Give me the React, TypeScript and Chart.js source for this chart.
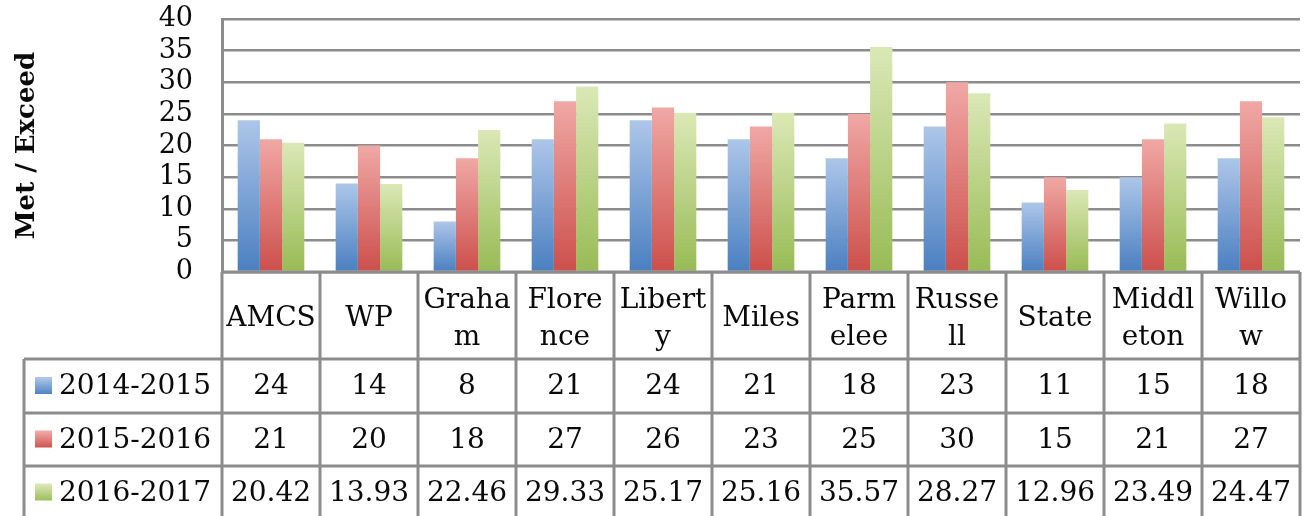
import React, { useEffect, useRef } from "react";
import { Chart, registerables } from "chart.js";

Chart.register(...registerables);

const categories = ["AMCS", "WP", "Graham", "Florence", "Liberty", "Miles", "Parmelee", "Russell", "State", "Middleton", "Willow"];
const headerLines = [["AMCS"], ["WP"], ["Graha", "m"], ["Flore", "nce"], ["Libert", "y"], ["Miles"], ["Parm", "elee"], ["Russe", "ll"], ["State"], ["Middl", "eton"], ["Willo", "w"]];
const seriesLabels = ["2014-2015", "2015-2016", "2016-2017"];
const values2014 = [24, 14, 8, 21, 24, 21, 18, 23, 11, 15, 18];
const values2015 = [21, 20, 18, 27, 26, 23, 25, 30, 15, 21, 27];
const values2016 = [20.42, 13.93, 22.46, 29.33, 25.17, 25.16, 35.57, 28.27, 12.96, 23.49, 24.47];
const tableText2016 = ["20.42", "13.93", "22.46", "29.33", "25.17", "25.16", "35.57", "28.27", "12.96", "23.49", "24.47"];
const yTicks = { min: 0, max: 40, step: 5 };

const colorsTop = ["#adc6e9", "#f0a8a5", "#dbe8b6"];
const colorsBottom = ["#4a7fc0", "#cc4f4b", "#98bb55"];
const FONT = "'DejaVu Serif', serif";
const LINE = "#8c8c8c";

function barFill(idx: number) {
  return (ctx: any) => {
    const chart = ctx.chart;
    const y = chart.scales?.y;
    if (!y || ctx.raw == null) return colorsBottom[idx];
    const top = y.getPixelForValue(ctx.raw);
    const bottom = y.getPixelForValue(0);
    if (!isFinite(top) || !isFinite(bottom) || top === bottom) return colorsBottom[idx];
    const g = chart.ctx.createLinearGradient(0, top, 0, bottom);
    g.addColorStop(0, colorsTop[idx]);
    g.addColorStop(1, colorsBottom[idx]);
    return g;
  };
}

const tablePlugin = {
  id: "dataTable",
  afterDraw(chart: any) {
    const { ctx, chartArea, scales } = chart;
    const x = scales.x;
    const n = categories.length;
    const colW = (chartArea.right - chartArea.left) / n;
    const top = chartArea.bottom;
    const headerBottom = top + 87;
    const rowBottoms = [headerBottom + 54, headerBottom + 107, headerBottom + 160];
    const legendLeft = 24;
    ctx.save();
    ctx.strokeStyle = LINE;
    ctx.lineWidth = 3;
    ctx.beginPath();
    ctx.moveTo(chartArea.left, top);
    ctx.lineTo(chartArea.right, top);
    ctx.moveTo(legendLeft, headerBottom);
    ctx.lineTo(chartArea.right, headerBottom);
    for (const rb of rowBottoms) {
      ctx.moveTo(legendLeft, rb);
      ctx.lineTo(chartArea.right, rb);
    }
    for (let i = 0; i <= n; i++) {
      const lx = chartArea.left + i * colW;
      ctx.moveTo(lx, top);
      ctx.lineTo(lx, rowBottoms[2]);
    }
    ctx.moveTo(legendLeft, headerBottom);
    ctx.lineTo(legendLeft, rowBottoms[2]);
    ctx.stroke();

    ctx.fillStyle = "#0a0a0a";
    ctx.font = `28px ${FONT}`;
    ctx.textAlign = "center";
    ctx.textBaseline = "middle";
    const headerMid = top + 47;
    for (let i = 0; i < n; i++) {
      const cx = x.getPixelForValue(i);
      const lines = headerLines[i];
      if (lines.length === 1) {
        ctx.fillText(lines[0], cx, headerMid);
      } else {
        ctx.fillText(lines[0], cx, headerMid - 18.5);
        ctx.fillText(lines[1], cx, headerMid + 18.5);
      }
    }
    const rowTexts = [values2014.map(String), values2015.map(String), tableText2016];
    let prev = headerBottom;
    rowTexts.forEach((texts, r) => {
      const mid = (prev + rowBottoms[r]) / 2 + 1;
      prev = rowBottoms[r];
      for (let i = 0; i < n; i++) {
        ctx.fillText(texts[i], x.getPixelForValue(i), mid);
      }
      const g = ctx.createLinearGradient(0, mid - 9, 0, mid + 8);
      g.addColorStop(0, colorsTop[r]);
      g.addColorStop(1, colorsBottom[r]);
      ctx.fillStyle = g;
      ctx.fillRect(35, mid - 10, 17, 17);
      ctx.fillStyle = "#0a0a0a";
      ctx.textAlign = "left";
      ctx.fillText(seriesLabels[r], 59, mid);
      ctx.textAlign = "center";
    });
    ctx.restore();
  },
};

export default function App() {
  const ref = useRef<HTMLCanvasElement | null>(null);
  useEffect(() => {
    if (!ref.current) return;
    Chart.defaults.font.family = FONT;
    const chart = new Chart(ref.current, {
      type: "bar",
      data: {
        labels: categories,
        datasets: [
          { label: seriesLabels[0], data: values2014, backgroundColor: barFill(0), barPercentage: 1, categoryPercentage: 0.68 },
          { label: seriesLabels[1], data: values2015, backgroundColor: barFill(1), barPercentage: 1, categoryPercentage: 0.68 },
          { label: seriesLabels[2], data: values2016, backgroundColor: barFill(2), barPercentage: 1, categoryPercentage: 0.68 },
        ],
      },
      options: {
        animation: false,
        responsive: false,
        maintainAspectRatio: false,
        layout: { padding: { left: 0, right: 8, top: 19, bottom: 0 } },
        plugins: { legend: { display: false }, tooltip: { enabled: false } },
        scales: {
          x: {
            ticks: { display: false },
            grid: { display: false },
            border: { display: false },
            afterFit: (s: any) => { s.height = 244; s.paddingLeft = 0; s.paddingRight = 0; },
          },
          y: {
            min: yTicks.min,
            max: yTicks.max,
            ticks: { stepSize: yTicks.step, autoSkip: false, padding: 29, color: "#0a0a0a", font: { size: 27, family: FONT } },
            grid: { color: LINE, lineWidth: 2.5, drawTicks: false },
            border: { display: true, color: LINE, width: 3 },
            title: { display: true, text: "Met / Exceed", color: "#0a0a0a", font: { size: 26, weight: "bold", family: FONT }, padding: { top: 12, bottom: 0 } },
            afterFit: (s: any) => { s.width = 222; s.paddingTop = 0; s.paddingBottom = 0; },
          },
        },
      },
      plugins: [tablePlugin],
    });
    return () => chart.destroy();
  }, []);
  return (
    <div style={{ position: "absolute", left: 0, top: 0, width: 1308, height: 516, background: "#fff" }}>
      <canvas ref={ref} width={1308} height={516} />
    </div>
  );
}
